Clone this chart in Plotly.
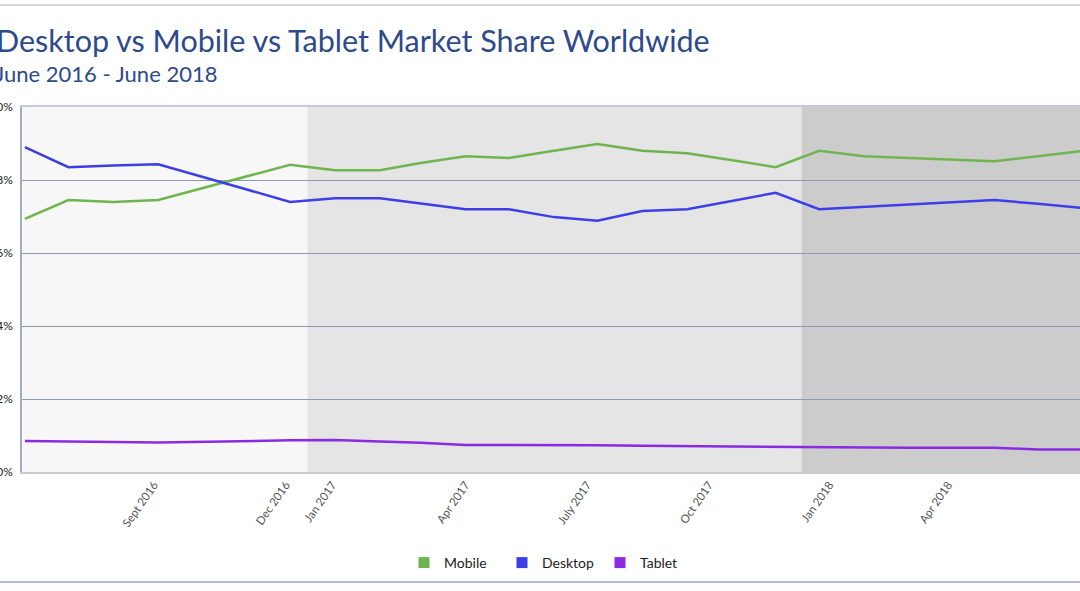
import plotly.graph_objects as go

# ---------------- data ----------------
months = ["2016-06", "2016-07", "2016-08", "2016-09", "2016-12",
          "2017-01", "2017-02", "2017-03", "2017-04", "2017-05", "2017-06",
          "2017-07", "2017-08", "2017-09", "2017-10", "2017-11", "2017-12",
          "2018-01", "2018-02", "2018-03", "2018-04", "2018-05", "2018-06"]

mobile = [41.6, 44.7, 44.4, 44.7, 50.5,
          49.6, 49.6, 50.8, 51.9, 51.6, 52.8,
          53.9, 52.8, 52.4, 51.3, 50.1, 52.8,
          51.9, 51.6, 51.4, 51.1, 51.9, 52.8]

desktop = [53.4, 50.1, 50.4, 50.6, 44.4,
           45.0, 45.0, 44.1, 43.2, 43.2, 41.9,
           41.3, 42.9, 43.2, 44.5, 45.9, 43.2,
           43.6, 44.0, 44.4, 44.7, 44.1, 43.4]

tablet = [5.1, 5.0, 4.9, 4.85, 5.2,
          5.26, 5.0, 4.8, 4.45, 4.45, 4.4,
          4.4, 4.3, 4.25, 4.15, 4.1, 4.0,
          4.0, 4.0, 4.0, 4.0, 3.7, 3.7]

series_names = ["Mobile", "Desktop", "Tablet"]
x_tick_labels = ["Sept 2016", "Dec 2016", "Jan 2017", "Apr 2017",
                 "July 2017", "Oct 2017", "Jan 2018", "Apr 2018"]
y_tick_values = [0, 12, 24, 36, 48, 60]
y_tick_labels = ["0%", "12%", "24%", "36%", "48%", "60%"]

title_text = "Desktop vs Mobile vs Tablet Market Share Worldwide"
subtitle_text = "June 2016 - June 2018"

# ---------------- layout / style ----------------
colors = ["#6fb54f", "#3c3fe6", "#8a2be2"]
x_tick_positions = ["2016-08-29", "2016-11-28", "2016-12-30", "2017-04-01",
                    "2017-06-24", "2017-09-16", "2017-12-08", "2018-02-28"]
x_range = ["2016-05-30", "2018-05-30"]
band_edges = ["2016-12-13", "2017-11-19"]
FONT = "Lato, 'Open Sans', sans-serif"
TITLE_COLOR = "#2d4a8a"

fig = go.Figure()
for name, vals, col in zip(series_names, [mobile, desktop, tablet], colors):
    fig.add_trace(go.Scatter(x=months, y=vals, mode="lines", name=name,
                             line=dict(color=col, width=2.5),
                             showlegend=False, hoverinfo="x+y+name"))
for name, col in zip(series_names, colors):
    fig.add_trace(go.Scatter(x=[None], y=[None], mode="markers", name=name,
                             marker=dict(symbol="square", size=11, color=col)))

shapes = [
    dict(type="rect", xref="x", yref="paper", x0=band_edges[0], x1=band_edges[1],
         y0=0, y1=1, fillcolor="#e5e5e5", line=dict(width=0), layer="below"),
    dict(type="rect", xref="x", yref="paper", x0=band_edges[1], x1="2018-07-01",
         y0=0, y1=1, fillcolor="#cccccc", line=dict(width=0), layer="below"),
    dict(type="line", xref="paper", yref="paper", x0=-0.05, x1=1.05,
         y0=(472 - 5) / 365, y1=(472 - 5) / 365,
         line=dict(color="#a9b2c9", width=1)),
    dict(type="line", xref="paper", yref="paper", x0=-0.05, x1=1.05,
         y0=(472 - 582) / 365, y1=(472 - 582) / 365,
         line=dict(color="#97a5c2", width=1.5)),
]

annotations = [
    dict(text=title_text, xref="paper", yref="paper", x=-28 / 1058, y=1.183,
         xanchor="left", yanchor="middle", showarrow=False,
         font=dict(family=FONT, size=30.5, color=TITLE_COLOR)),
    dict(text=subtitle_text, xref="paper", yref="paper", x=-29 / 1058, y=1.092,
         xanchor="left", yanchor="middle", showarrow=False,
         font=dict(family=FONT, size=22, color=TITLE_COLOR)),
]

fig.update_layout(
    width=1080, height=591,
    margin=dict(l=22, r=0, t=107, b=119, autoexpand=False),
    paper_bgcolor="white",
    plot_bgcolor="#f7f7f7",
    font=dict(family=FONT, color="#222222"),
    shapes=shapes,
    annotations=annotations,
    showlegend=True,
    legend=dict(orientation="h", x=0.5, xanchor="center", y=(472 - 563) / 365,
                yanchor="middle", font=dict(size=14, color="#222222"),
                entrywidth=53, entrywidthmode="pixels",
                bgcolor="rgba(0,0,0,0)"),
    xaxis=dict(type="date", range=x_range, showgrid=False, zeroline=False,
               tickvals=x_tick_positions, ticktext=x_tick_labels,
               tickangle=-55, tickfont=dict(size=11.5, color="#555555"),
               showline=True, linecolor="#c3cad9", linewidth=1.5, mirror=True,
               automargin=False),
    yaxis=dict(range=[0, 60], tickvals=y_tick_values, ticktext=y_tick_labels,
               showgrid=True, gridcolor="#8e99b4", gridwidth=1, zeroline=False,
               showline=True, linecolor="#a3abc3", linewidth=1.5,
               tickfont=dict(size=12, color="#222222"),
               ticklabelstandoff=5, automargin=False),
)

fig.write_html("out.html")
